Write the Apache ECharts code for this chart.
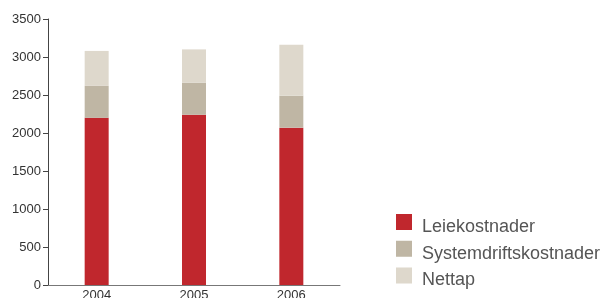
<!DOCTYPE html>
<html>
<head>
<meta charset="utf-8">
<script src="https://cdn.jsdelivr.net/npm/echarts@6/dist/echarts.min.js"></script>
<style>
html, body { margin: 0; padding: 0; background: #fff; }
#chart { width: 605px; height: 298px; }
</style>
</head>
<body>
<div id="chart"></div>
<script>
// data
const years = ['2004', '2005', '2006'];
const leiekostnader = [2200, 2240, 2070];
const systemdrift = [420, 420, 420];
const nettap = [460, 440, 670];
const yTicks = { min: 0, max: 3500, interval: 500 };

const chart = echarts.init(document.getElementById('chart'));
const font = 'Liberation Sans, Arial, sans-serif';

const barSeries = (name, data, color) => ({
    name: name,
    type: 'bar',
    stack: 'total',
    data: data,
    barWidth: 24,
    itemStyle: { color: color },
    emphasis: { disabled: true }
});

chart.setOption({
    animation: false,
    grid: { left: 48, right: 265, top: 19, bottom: 13, outerBoundsMode: 'none' },
    legend: {
        orient: 'vertical',
        left: 396,
        top: 214,
        height: 100,
        padding: 0,
        // square on top, empty space underneath so the text sits lower
        icon: 'path://M0,0H16V16H0Z M0,26H0.01V26Z',
        itemWidth: 16,
        itemHeight: 26,
        itemGap: 0.7,
        formatter: (name) => ' ' + name,
        textStyle: { fontFamily: font, fontSize: 18, color: '#555' },
        data: ['Leiekostnader', 'Systemdriftskostnader', 'Nettap']
    },
    xAxis: {
        type: 'category',
        data: years,
        axisLine: { lineStyle: { color: '#777', width: 1 } },
        axisTick: { inside: true, length: 5, lineStyle: { color: '#555' } },
        axisLabel: { fontFamily: font, fontSize: 13, color: '#333', margin: 4 }
    },
    yAxis: {
        type: 'value',
        min: yTicks.min,
        max: yTicks.max,
        interval: yTicks.interval,
        axisLine: { show: true, lineStyle: { color: '#444', width: 1 } },
        axisTick: { show: true, length: 5, lineStyle: { color: '#444' } },
        splitLine: { show: false },
        axisLabel: {
            fontFamily: font,
            fontSize: 13,
            color: '#333',
            margin: 7,
            formatter: (v) => String(v)
        }
    },
    series: [
        barSeries('Leiekostnader', leiekostnader, '#c0272d'),
        barSeries('Systemdriftskostnader', systemdrift, '#bfb6a4'),
        barSeries('Nettap', nettap, '#ded8cc')
    ]
});
</script>
</body>
</html>
